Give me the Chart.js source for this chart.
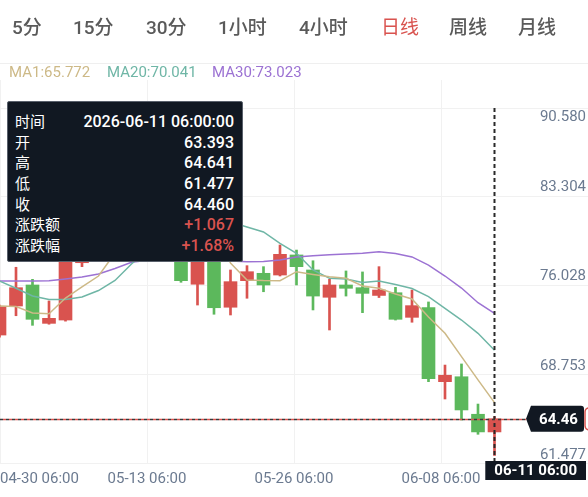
<!DOCTYPE html>
<html><head><meta charset="utf-8">
<script src="https://cdn.jsdelivr.net/npm/chart.js@4.4.1/dist/chart.umd.min.js"></script>
<style>
html,body{margin:0;padding:0;background:#fff;}
#wrap{position:relative;width:588px;height:497px;overflow:hidden;font-family:Roboto,"Noto Sans CJK SC",sans-serif;}
#c{position:absolute;left:0;top:0;}
.tab{position:absolute;top:16px;font-size:19px;line-height:24px;color:#5a5a5a;white-space:nowrap;font-weight:500;}
.tab.on{color:#d9534f;font-weight:400;}
#sep{position:absolute;left:0;top:63px;width:588px;height:1px;background:#efefef;}
.ma{position:absolute;top:63px;font-size:15px;line-height:18px;white-space:nowrap;}
#tip{position:absolute;left:7px;top:101px;width:219px;height:149px;padding:10px 8px 0 7px;background:#111822;border:1px solid #59606b;border-radius:2px;color:#fff;font-size:15px;}
#tip .row{display:flex;justify-content:space-between;height:20.7px;line-height:20.7px;}
#tip .v{font-weight:500;font-size:16px;}
#tip .red{color:#d9534f;}
</style></head>
<body>
<div id="wrap">
  <canvas id="c" width="588" height="497"></canvas>
  <div id="sep"></div>
  <div id="tip"></div>
</div>
<script>
// ---- data ----
const year = '2026';
const dates = ['04-30','05-01','05-04','05-05','05-06','05-07','05-08','05-11','05-12','05-13',
  '05-14','05-15','05-18','05-19','05-20','05-21','05-22','05-25','05-26','05-27',
  '05-28','05-29','06-01','06-02','06-03','06-04','06-05','06-08','06-09','06-10','06-11'];
const open  = [71.27,73.63,75.34,72.22,72.49,77.15,78.20,79.50,81.90,86.10,
  88.30,83.00,75.40,77.60,73.53,75.69,76.29,76.15,77.78,76.56,
  74.34,75.34,75.12,74.49,74.71,72.71,73.51,67.48,67.88,64.83,63.393];
const high  = [73.70,76.78,75.80,74.04,78.10,78.60,80.30,82.50,86.80,90.58,
  89.40,83.80,78.30,78.00,76.56,76.91,76.83,78.59,78.18,77.31,
  75.80,76.48,76.40,76.83,75.15,74.93,73.96,68.83,68.92,65.66,64.641];
const low   = [71.10,72.84,72.06,72.15,72.40,76.83,77.80,78.90,81.20,85.50,
  82.60,75.56,73.71,72.96,72.90,74.26,74.79,76.07,75.34,73.31,
  71.68,74.44,73.09,74.32,72.49,72.31,67.48,66.07,64.36,63.20,61.477];
const close = [73.57,75.12,72.55,72.63,77.50,78.10,79.60,81.87,86.00,88.50,
  83.20,75.70,77.64,73.49,75.61,76.42,75.34,77.83,76.83,74.44,
  75.34,75.07,74.66,74.93,72.55,73.66,67.72,68.00,65.18,63.393,64.460];
const ma1  = [73.63,73.59,73.06,73.00,74.28,75.18,76.07,77.94,80.60,82.80,
  83.80,83.00,82.20,79.70,77.13,75.75,75.70,75.69,76.42,76.20,
  76.00,75.88,75.26,75.07,74.61,74.20,72.74,71.41,69.51,67.62,65.772];
const ma20 = [75.66,75.07,74.44,74.16,74.16,74.36,74.89,75.71,77.05,78.20,
  79.10,79.70,80.20,80.45,80.46,80.05,79.65,78.73,77.92,76.56,
  75.88,75.83,75.54,75.66,75.38,75.05,74.39,73.44,72.49,71.41,70.041];
const ma30 = [75.66,75.66,75.66,75.68,75.83,75.99,76.23,76.68,77.18,77.35,
  77.45,77.45,77.40,77.35,77.28,77.23,77.25,77.37,77.62,77.72,
  77.80,77.86,77.92,78.05,77.90,77.62,76.96,76.07,75.09,73.90,73.023];
const yTickLabels = [61.477, 68.753, 76.028, 83.304, 90.580];
const xTickLabels = ['04-30 06:00','05-13 06:00','05-26 06:00','06-08 06:00',''];
const tabs = ['5分','15分','30分','1小时','4小时','日线','周线','月线'];
const activeTab = '日线';

// ---- layout/style ----
const tabLeft = [12,73,146,218,299,381,449,518];
const UP = '#d9534f', DOWN = '#5cb85c';
const C_MA1 = '#cdb987', C_MA20 = '#6fb6a6', C_MA30 = '#9c72d3';
const AXIS_TXT = '#6b7a90';
const GRID = '#f1f1f1';

const wrap = document.getElementById('wrap');
tabs.forEach((t,i)=>{
  const d = document.createElement('div');
  d.className = 'tab' + (t===activeTab ? ' on' : '');
  d.style.left = tabLeft[i] + 'px';
  d.textContent = t;
  wrap.appendChild(d);
});
const last = close.length - 1;
[['MA1', ma1, C_MA1, 9], ['MA20', ma20, C_MA20, 107], ['MA30', ma30, C_MA30, 212]].forEach(([n, arr, col, left])=>{
  const d = document.createElement('div');
  d.className = 'ma'; d.style.left = left + 'px'; d.style.color = col;
  d.textContent = n + ':' + arr[last].toFixed(3);
  wrap.appendChild(d);
});
// tooltip
const chg = close[last] - close[last-1];
const pct = chg / close[last-1] * 100;
const sign = v => (v >= 0 ? '+' : '');
const rows = [
  ['时间', year + '-' + dates[last] + ' 06:00:00', ''],
  ['开', open[last].toFixed(3), ''],
  ['高', high[last].toFixed(3), ''],
  ['低', low[last].toFixed(3), ''],
  ['收', close[last].toFixed(3), ''],
  ['涨跌额', sign(chg) + chg.toFixed(3), chg >= 0 ? 'red' : ''],
  ['涨跌幅', sign(pct) + pct.toFixed(2) + '%', pct >= 0 ? 'red' : '']
];
document.getElementById('tip').innerHTML = rows.map(r =>
  `<div class="row"><span>${r[0]}</span><span class="v ${r[2]}">${r[1]}</span></div>`).join('');

const idx = close.map((_, i) => i);
const colorOf = i => close[i] >= open[i] ? UP : DOWN;

const overlay = {
  id: 'overlay',
  afterDatasetsDraw(chart) {
    const {ctx, scales: {x, y}} = chart;
    const cx = x.getPixelForValue(last);
    ctx.save();
    ctx.strokeStyle = '#2a2a2a'; ctx.lineWidth = 2; ctx.setLineDash([4, 3]);
    ctx.beginPath(); ctx.moveTo(cx, 108); ctx.lineTo(cx, 463); ctx.stroke();
    ctx.restore();
    // price line
    const py = Math.round(y.getPixelForValue(close[last])) + 0.5;
    ctx.save();
    ctx.lineWidth = 1.5;
    ctx.setLineDash([3, 3]);
    ctx.strokeStyle = '#3a3a3a';
    ctx.beginPath(); ctx.moveTo(0, py); ctx.lineTo(526, py); ctx.stroke();
    ctx.lineDashOffset = 3;
    ctx.strokeStyle = '#d9534f';
    ctx.beginPath(); ctx.moveTo(0, py); ctx.lineTo(526, py); ctx.stroke();
    ctx.restore();
  },
  afterDraw(chart) {
    const {ctx, scales: {x, y}} = chart;
    const py = y.getPixelForValue(close[last]);
    ctx.save();
    // red partial tag at right edge
    ctx.strokeStyle = '#d9534f'; ctx.lineWidth = 1.5;
    ctx.beginPath(); ctx.roundRect(585, py - 11, 40, 22, 4); ctx.stroke();
    // price tag
    ctx.fillStyle = '#111822';
    const t = py - 13, b = py + 13, l = 531, r = 584;
    ctx.beginPath();
    ctx.moveTo(l - 5, py); ctx.lineTo(l, t); ctx.lineTo(r - 3, t);
    ctx.quadraticCurveTo(r, t, r, t + 3); ctx.lineTo(r, b - 3);
    ctx.quadraticCurveTo(r, b, r - 3, b); ctx.lineTo(l, b); ctx.closePath(); ctx.fill();
    ctx.fillStyle = '#fff'; ctx.font = 'bold 15px Roboto'; ctx.textAlign = 'center'; ctx.textBaseline = 'middle';
    ctx.fillText(close[last].toFixed(2), (l + r) / 2 + 1, py + 1);
    // x crosshair label
    const txt = dates[last] + ' 06:00';
    ctx.font = 'bold 15px Roboto';
    const w = ctx.measureText(txt).width + 18;
    const bx = 586 - w;
    ctx.fillStyle = '#111822';
    ctx.fillRect(bx, 461, w, 19);
    ctx.fillStyle = '#fff'; ctx.textAlign = 'center'; ctx.textBaseline = 'middle';
    ctx.fillText(txt, bx + w / 2, 471);
    ctx.restore();
  }
};

const clipTop = {left: 0, top: -28, right: 0, bottom: 0};
new Chart(document.getElementById('c'), {
  type: 'bar',
  data: {
    datasets: [
      {type: 'line', data: idx.map(i => ({x: i, y: ma1[i]})), borderColor: C_MA1, borderWidth: 1.5, pointRadius: 0, tension: 0, order: 0, clip: clipTop},
      {type: 'line', data: idx.map(i => ({x: i, y: ma20[i]})), borderColor: C_MA20, borderWidth: 1.5, pointRadius: 0, tension: 0, order: 0, clip: clipTop},
      {type: 'line', data: idx.map(i => ({x: i, y: ma30[i]})), borderColor: C_MA30, borderWidth: 1.5, pointRadius: 0, tension: 0, order: 0, clip: clipTop},
      {data: idx.map(i => ({x: i, y: [open[i], close[i]]})), backgroundColor: c => colorOf(c.dataIndex), barThickness: 13, grouped: false, order: 1, borderWidth: 0, clip: clipTop},
      {data: idx.map(i => ({x: i, y: [low[i], high[i]]})), backgroundColor: c => colorOf(c.dataIndex), barThickness: 2, grouped: false, order: 2, borderWidth: 0, clip: clipTop}
    ]
  },
  options: {
    responsive: false, animation: false, events: [],
    layout: {padding: {top: 80, left: 0, right: 0, bottom: 0}},
    plugins: {legend: {display: false}, tooltip: {enabled: false}},
    scales: {
      x: {
        type: 'linear', min: 0.0303, max: 35.667, offset: false,
        grid: {color: GRID, drawTicks: true, tickLength: 7, tickColor: 'rgba(0,0,0,0)', offset: false}, border: {display: false},
        afterBuildTicks: s => { s.ticks = [0, 1, 2, 3, 4].map(j => ({value: s.min + j * (s.max - s.min) / 4})); },
        ticks: {align: 'inner', maxRotation: 0, autoSkip: false, padding: 0, color: AXIS_TXT,
          font: {family: 'Roboto', size: 15}, callback: (v, i) => xTickLabels[i]},
        afterFit: s => { s.height = 34; }
      },
      y: {
        type: 'linear', position: 'right', min: 60.867, max: 92.005,
        grid: {display: false, drawTicks: false}, border: {display: false},
        afterBuildTicks: s => { const cap = s.max - 0.0966 * (s.max - s.min); s.ticks = yTickLabels.map(v => ({value: Math.min(v, cap)})); },
        ticks: {mirror: true, padding: -2, color: AXIS_TXT, font: {family: 'Roboto', size: 15},
          callback: (v, i) => yTickLabels[i].toFixed(3)},
        afterFit: s => { s.width = 0; }
      },
      yg: {
        type: 'linear', position: 'right', min: 0, max: 4.3155,
        grid: {color: GRID, drawTicks: false}, border: {display: false},
        afterBuildTicks: s => { s.ticks = [0, 1, 2, 3, 4].map(v => ({value: v})); },
        ticks: {display: false},
        afterFit: s => { s.width = 0; }
      }
    }
  },
  plugins: [overlay]
});
</script>
</body></html>
